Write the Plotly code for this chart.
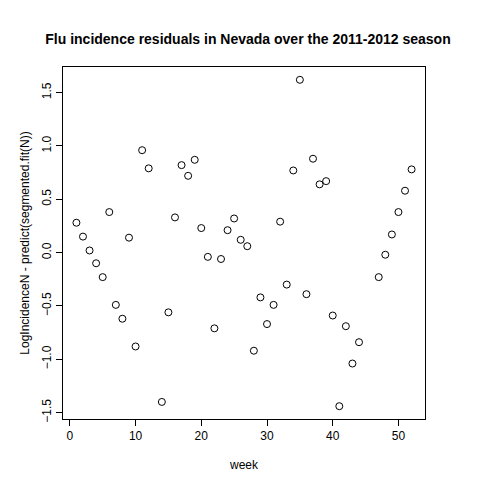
import plotly.graph_objects as go

weeks = [1, 2, 3, 4, 5, 6, 7, 8, 9, 10, 11, 12, 14, 15, 16, 17, 18, 19, 20,
         21, 22, 23, 24, 25, 26, 27, 28, 29, 30, 31, 32, 33, 34, 35, 36, 37,
         38, 39, 40, 41, 42, 43, 44, 47, 48, 49, 50, 51, 52]
residuals = [0.28, 0.15, 0.02, -0.10, -0.23, 0.38, -0.49, -0.62, 0.14, -0.88,
             0.96, 0.79, -1.40, -0.56, 0.33, 0.82, 0.72, 0.87, 0.23,
             -0.04, -0.71, -0.06, 0.21, 0.32, 0.12, 0.06, -0.92, -0.42, -0.67,
             -0.49, 0.29, -0.30, 0.77, 1.62, -0.39, 0.88, 0.64, 0.67, -0.59,
             -1.44, -0.69, -1.04, -0.84, -0.23, -0.02, 0.17, 0.38, 0.58, 0.78]

fig = go.Figure(go.Scatter(
    x=weeks, y=residuals, mode='markers',
    marker=dict(symbol='circle-open', size=7, color='black', line=dict(width=1)),
))

axis_common = dict(showgrid=False, zeroline=False, showline=True, linecolor='black',
                   mirror=True, ticks='outside', ticklen=6, tickcolor='black',
                   automargin=False,
                   tickfont=dict(size=12, color='black'))

fig.update_layout(
    width=480, height=480,
    paper_bgcolor='white', plot_bgcolor='white',
    font=dict(family='Liberation Sans, Arial', color='black'),
    title=dict(text='<b>Flu incidence residuals in Nevada over the 2011-2012 season</b>',
               x=0.5, xanchor='center', y=0.945, font=dict(size=14)),
    margin=dict(l=55, r=63, t=59, b=69),
    showlegend=False,
    xaxis=dict(range=[-1.04, 54.04], tickvals=[0, 10, 20, 30, 40, 50],
               title=dict(text='week', font=dict(size=12), standoff=18), **axis_common),
    yaxis=dict(range=[-1.56, 1.74], tickvals=[-1.5, -1.0, -0.5, 0.0, 0.5, 1.0, 1.5],
               tickformat='.1f', tickangle=-90,
               title=dict(text='LogIncidenceN - predict(segmented.fit(N))',
                          font=dict(size=12), standoff=8), **axis_common),
)

fig.write_html("out.html")
